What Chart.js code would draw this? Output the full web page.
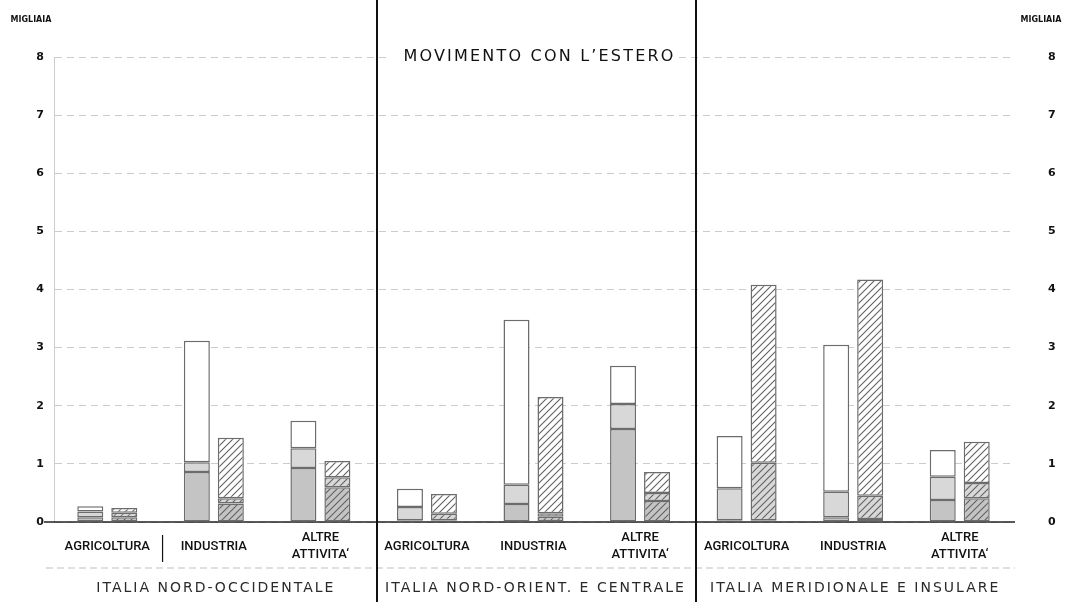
<!DOCTYPE html>
<html lang="it">
<head>
<meta charset="UTF-8">
<title>Movimento con l'estero</title>
<script src="https://cdn.jsdelivr.net/npm/chart.js"></script>
<style>
    body { margin: 0; background: #fff; }
    #grafico { display: block; }
</style>
</head>
<body>
<canvas id="grafico" width="1070" height="602"></canvas>
<script>
    // categorie (3 per ripartizione)
    const attivita = ['AGRICOLTURA', 'INDUSTRIA', ['ALTRE', 'ATTIVITA\u2018']]
    const categorie = [...attivita, ...attivita, ...attivita]
    const ripartizioni = ['ITALIA NORD-OCCIDENTALE', 'ITALIA NORD-ORIENT. E CENTRALE', 'ITALIA MERIDIONALE E INSULARE']
    const tickY = [0, 1, 2, 3, 4, 5, 6, 7, 8]

    // barre chiare (migliaia) - segmenti dal basso
    const pienoScuro  = [0.08, 0.86, 0.93, 0.03, 0.31, 1.60, 0.03, 0.08, 0.38]
    const pienoChiaro = [0.10, 0.17, 0.34, 0.23, 0.33, 0.43, 0.55, 0.44, 0.40]
    const pienoBianco = [0.09, 2.09, 0.47, 0.31, 2.84, 0.66, 0.90, 2.53, 0.46]

    // barre tratteggiate
    const trattScuro  = [0.08, 0.32, 0.60, 0.03, 0.09, 0.36, 0.03, 0.05, 0.41]
    const trattChiaro = [0.08, 0.09, 0.17, 0.11, 0.06, 0.14, 0.99, 0.40, 0.26]
    const trattBianco = [0.08, 1.04, 0.28, 0.34, 2.00, 0.36, 3.06, 3.72, 0.71]

    const grigioScuro = '#c4c4c4'
    const grigioChiaro = '#d8d8d8'
    const bordo = '#6c6c6c'

    function tratteggio(fondo) {
        const t = 7
        const c = document.createElement('canvas')
        c.width = t; c.height = t
        const g = c.getContext('2d')
        g.fillStyle = fondo
        g.fillRect(0, 0, t, t)
        g.strokeStyle = '#626262'
        g.lineWidth = 1.1
        g.beginPath()
        g.moveTo(0, t); g.lineTo(t, 0)
        g.moveTo(-2, 2); g.lineTo(2, -2)
        g.moveTo(t - 2, t + 2); g.lineTo(t + 2, t - 2)
        g.stroke()
        return g.createPattern(c, 'repeat')
    }

    function serie(dati, colore, gruppo) {
        return {
            data: dati,
            stack: gruppo,
            backgroundColor: colore,
            borderColor: bordo,
            borderWidth: 1.5,
            borderSkipped: false,
            categoryPercentage: 0.638,
            barPercentage: 0.765
        }
    }

    const decorazioni = {
        id: 'decorazioni',
        beforeDatasetsDraw(chart) {
            const { ctx, chartArea, scales } = chart
            const y0 = scales.y.getPixelForValue(0)
            ctx.save()
            // linea dello zero
            ctx.strokeStyle = '#222'
            ctx.lineWidth = 1.5
            ctx.beginPath()
            ctx.moveTo(chartArea.left - 10, y0)
            ctx.lineTo(chartArea.right + 2, y0)
            ctx.stroke()
            // titolo con fondo bianco
            ctx.font = '16px "DejaVu Sans"'
            ctx.letterSpacing = '2.2px'
            ctx.textAlign = 'center'
            ctx.textBaseline = 'middle'
            const xt = (scales.x.getPixelForValue(4))
            const yt = scales.y.getPixelForValue(8)
            const w = ctx.measureText('MOVIMENTO CON L\u2019ESTERO').width
            ctx.fillStyle = '#fff'
            ctx.fillRect(xt - w / 2 - 8, yt - 12, w + 16, 24)
            ctx.fillStyle = '#111'
            ctx.fillText('MOVIMENTO CON L\u2019ESTERO', xt + 6, yt)
            ctx.restore()
        },
        afterDraw(chart) {
            const { ctx, chartArea, scales } = chart
            const x = scales.x
            ctx.save()
            // separatori tra ripartizioni
            ctx.strokeStyle = '#111'
            ctx.lineWidth = 2
            for (const i of [2.5, 5.5]) {
                const px = Math.round(x.getPixelForValue(i)) + 3
                ctx.beginPath()
                ctx.moveTo(px, 0)
                ctx.lineTo(px, chart.height)
                ctx.stroke()
            }
            // piccolo separatore tra agricoltura e industria
            const ps = (x.getPixelForValue(0) + x.getPixelForValue(1)) / 2 + 2
            ctx.lineWidth = 1.2
            ctx.beginPath()
            ctx.moveTo(ps, chartArea.bottom + 13)
            ctx.lineTo(ps, chartArea.bottom + 40)
            ctx.stroke()
            // riga tratteggiata sotto le attivita
            ctx.strokeStyle = 'rgba(0,0,0,0.25)'
            ctx.lineWidth = 1
            ctx.setLineDash([7, 4])
            ctx.beginPath()
            ctx.moveTo(chartArea.left - 8, chartArea.bottom + 46)
            ctx.lineTo(chartArea.right + 2, chartArea.bottom + 46)
            ctx.stroke()
            ctx.setLineDash([])
            // nomi delle ripartizioni
            ctx.font = '14px "DejaVu Sans"'
            ctx.letterSpacing = '2px'
            ctx.fillStyle = '#2a2a2a'
            ctx.textAlign = 'center'
            ctx.textBaseline = 'middle'
            ripartizioni.forEach((nome, i) => {
                ctx.fillText(nome, x.getPixelForValue(i * 3 + 1) + 2, chartArea.bottom + 66)
            })
            // unita di misura
            ctx.font = 'bold 8px "DejaVu Sans"'
            ctx.letterSpacing = '0px'
            ctx.fillStyle = '#111'
            ctx.fillText('MIGLIAIA', 31, 20)
            ctx.fillText('MIGLIAIA', 1041, 20)
            ctx.restore()
        }
    }

    const grafico = document.getElementById('grafico')

    new Chart(grafico, {
        type: 'bar',
        data: {
            labels: categorie,
            datasets: [
                serie(pienoScuro, grigioScuro, 'pieno'),
                serie(pienoChiaro, grigioChiaro, 'pieno'),
                serie(pienoBianco, '#ffffff', 'pieno'),
                serie(trattScuro, tratteggio(grigioScuro), 'tratt'),
                serie(trattChiaro, tratteggio(grigioChiaro), 'tratt'),
                serie(trattBianco, tratteggio('#ffffff'), 'tratt')
            ]
        },
        options: {
            responsive: false,
            animation: false,
            layout: { padding: { top: 57 } },
            plugins: {
                legend: { display: false },
                tooltip: { enabled: false }
            },
            scales: {
                x: {
                    stacked: true,
                    grid: { display: false },
                    border: { display: false },
                    ticks: {
                        color: '#111',
                        font: { family: 'Roboto', size: 13, weight: 500, lineHeight: 1.3 },
                        crossAlign: 'center',
                        padding: 8,
                        maxRotation: 0,
                        autoSkip: false
                    },
                    afterFit: s => { s.height = 80 }
                },
                y: {
                    position: 'left',
                    stacked: true,
                    min: 0,
                    max: 8,
                    afterBuildTicks: s => { s.ticks = tickY.map(v => ({ value: v })) },
                    grid: { color: 'rgba(0,0,0,0.2)', lineWidth: 1, drawTicks: false },
                    border: { display: true, color: 'rgba(0,0,0,0.2)', dash: [7, 5] },
                    ticks: {
                        color: '#111',
                        font: { family: 'DejaVu Sans', size: 11, weight: 'bold' },
                        padding: 10
                    },
                    afterFit: s => { s.width = 54 }
                },
                y2: {
                    position: 'right',
                    min: 0,
                    max: 8,
                    afterBuildTicks: s => { s.ticks = tickY.map(v => ({ value: v })) },
                    grid: { display: false },
                    border: { display: false },
                    ticks: {
                        color: '#111',
                        font: { family: 'DejaVu Sans', size: 11, weight: 'bold' },
                        padding: 27
                    },
                    afterFit: s => { s.width = 57 }
                }
            }
        },
        plugins: [decorazioni]
    })
</script>
</body>
</html>
